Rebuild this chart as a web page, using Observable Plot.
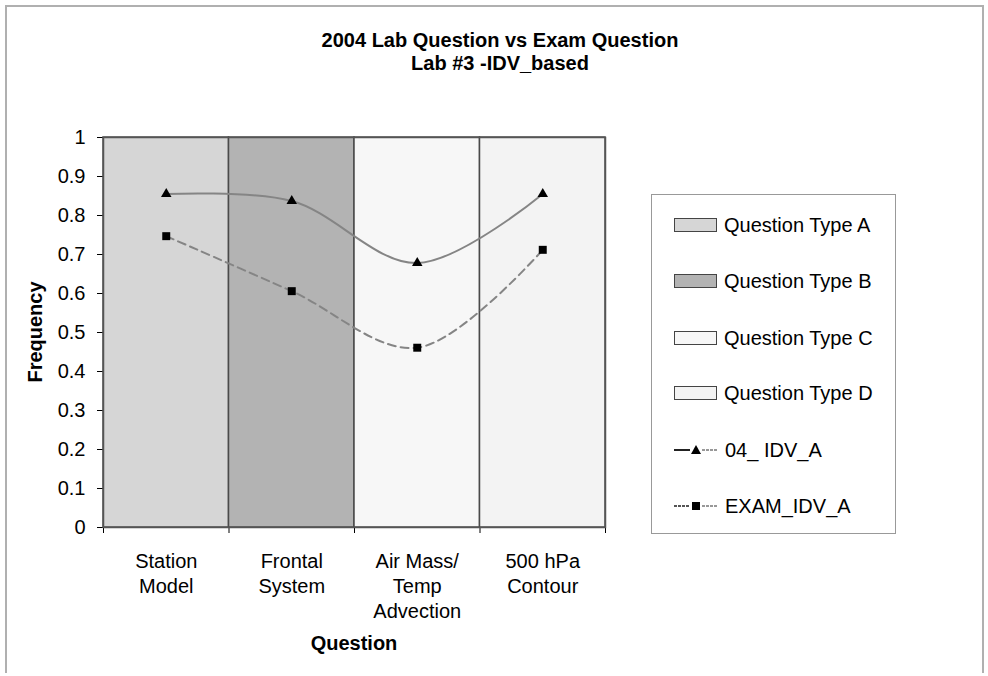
<!DOCTYPE html>
<html>
<head>
<meta charset="utf-8">
<script src="https://cdn.jsdelivr.net/npm/d3@7"></script>
<script src="https://cdn.jsdelivr.net/npm/@observablehq/plot@0.6"></script>
<style>
  html, body { margin: 0; padding: 0; background: #fff; }
  #wrap { position: relative; width: 988px; height: 676px; font-family: "Liberation Sans", Arial, sans-serif; color: #000; overflow: hidden; }
  #border { position: absolute; left: 5px; top: 5px; width: 979px; height: 668px; border: 2px solid #b0b0b0; border-bottom: none; box-sizing: border-box; }
  .title { position: absolute; left: 0; width: 1000px; text-align: center; font-weight: bold; font-size: 20px; line-height: 24px; }
  #chart { position: absolute; left: 0; top: 80px; }
  .axislabel { position: absolute; font-weight: bold; font-size: 20px; line-height: 24px; white-space: nowrap; }
  #legend { position: absolute; left: 651px; top: 194px; width: 245px; height: 340px; border: 1.5px solid #999; box-sizing: border-box; background: #fff; }
  .item { position: absolute; left: 22px; height: 24px; display: flex; align-items: center; font-size: 20px; white-space: nowrap; }
  .sw { width: 41px; height: 12px; border: 1.5px solid #444; margin-right: 7px; }
  .item svg { margin-right: 7px; }
</style>
</head>
<body>
<div id="wrap">
  <div id="border"></div>
  <div class="title" style="top:28px">2004 Lab Question vs Exam Question</div>
  <div class="title" style="top:51px">Lab #3 -IDV_based</div>
  <div id="chart"></div>
  <div class="axislabel" id="ylab" style="left:35px; top:332px; transform: translate(-50%,-50%) rotate(-90deg);">Frequency</div>
  <div class="axislabel" id="xlab" style="left:354px; top:643px; transform: translate(-50%,-50%);">Question</div>
  <div id="legend"></div>
</div>
<script>
// ---- data ----
const categories = ["Station\nModel", "Frontal\nSystem", "Air Mass/\nTemp\nAdvection", "500 hPa\nContour"];
const questionTypes = ["Question Type A", "Question Type B", "Question Type C", "Question Type D"];
const typeFills = ["#d6d6d6", "#b3b3b3", "#f7f7f7", "#f3f3f3"];
const seriesNames = ["04_ IDV_A", "EXAM_IDV_A"];
const lab04IDV = [0.855, 0.837, 0.678, 0.855];
const examIDV = [0.747, 0.606, 0.461, 0.712];
const yTicks = [0, 0.1, 0.2, 0.3, 0.4, 0.5, 0.6, 0.7, 0.8, 0.9, 1];

// ---- tables ----
const bands = categories.map((c, i) => ({i, fill: typeFills[i]}));
const labPts = categories.map((c, i) => ({x: i + 0.5, y: lab04IDV[i]}));
const examPts = categories.map((c, i) => ({x: i + 0.5, y: examIDV[i]}));
const labels = categories.map((c, i) => ({x: i + 0.5, text: c}));

const chart = Plot.plot({
  width: 988,
  height: 585,
  marginTop: 57,
  marginBottom: 138,
  marginLeft: 103,
  marginRight: 383,
  style: {fontFamily: "'Liberation Sans', Arial, sans-serif", fontSize: "20px", color: "#000", background: "transparent"},
  x: {domain: [0, categories.length], ticks: categories.length, tickFormat: () => "", tickSize: 6, label: null},
  y: {domain: [0, 1], ticks: yTicks, tickFormat: d => d3.format("~g")(d), tickSize: 6, tickPadding: 12, label: null},
  color: {type: "identity"},
  marks: [
    Plot.rectY(bands, {x1: d => d.i, x2: d => d.i + 1, y1: 0, y2: 1, fill: d => d.fill, stroke: "#4a4a4a", strokeWidth: 1.5}),
    Plot.frame({stroke: "#555", strokeWidth: 1.5}),
    Plot.line(labPts, {x: "x", y: "y", curve: "catmull-rom", stroke: "#858585", strokeWidth: 2}),
    Plot.line(examPts, {x: "x", y: "y", curve: "catmull-rom", stroke: "#858585", strokeWidth: 2, strokeDasharray: "8,5"}),
    Plot.dot(labPts, {x: "x", y: "y", symbol: "triangle", r: 3.9, fill: "#000", stroke: "none"}),
    Plot.dot(examPts, {x: "x", y: "y", symbol: "square", r: 4.5, fill: "#000", stroke: "none"}),
    Plot.text(labels, {x: "x", y: 0, text: "text", lineAnchor: "top", dy: 22, lineHeight: 1.27, fontSize: 20, fill: "#000"})
  ]
});
document.getElementById("chart").appendChild(chart);

// ---- legend ----
const legend = document.getElementById("legend");
const itemTops = [30, 86, 143, 198, 255, 311];
questionTypes.forEach((t, i) => {
  const el = document.createElement("div");
  el.className = "item";
  el.style.top = (itemTops[i] - 12) + "px";
  el.innerHTML = `<div class="sw" style="background:${typeFills[i]}"></div><span>${t}</span>`;
  legend.appendChild(el);
});
seriesNames.forEach((s, j) => {
  const el = document.createElement("div");
  el.className = "item";
  el.style.top = (itemTops[4 + j] - 12) + "px";
  const marker = j === 0
    ? `<path d="M22,3 L27,12 L17,12 Z" fill="#000"/>`
    : `<rect x="18" y="4" width="8" height="8" fill="#000"/>`;
  const left = j === 0
    ? `<line x1="0" y1="8" x2="16" y2="8" stroke="#222" stroke-width="2"/>`
    : `<line x1="0" y1="8" x2="16" y2="8" stroke="#555" stroke-width="2" stroke-dasharray="3,1"/>`;
  el.innerHTML = `<svg width="44" height="16">${left}<line x1="28" y1="8" x2="44" y2="8" stroke="#777" stroke-width="1.5" stroke-dasharray="3,1"/>${marker}</svg><span>${s}</span>`;
  legend.appendChild(el);
});
</script>
</body>
</html>
